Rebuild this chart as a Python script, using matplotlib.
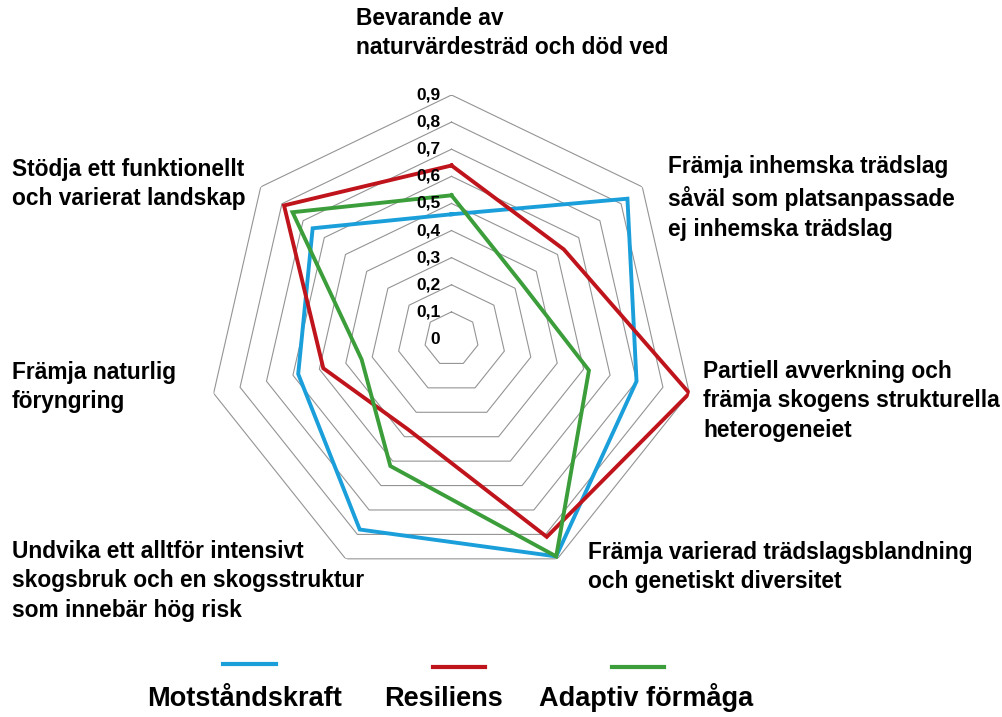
import numpy as np
import matplotlib.pyplot as plt
from matplotlib.lines import Line2D

plt.rcParams['font.family'] = ['Liberation Sans', 'DejaVu Sans']

# axlar medurs från toppen
categories = [
    "Bevarande av\nnaturvärdesträd och död ved",
    "Främja inhemska trädslag\nsåväl som platsanpassade\nej inhemska trädslag",
    "Partiell avverkning och\nfrämja skogens strukturella\nheterogeneiet",
    "Främja varierad trädslagsblandning\noch genetiskt diversitet",
    "Undvika ett alltför intensivt\nskogsbruk och en skogsstruktur\nsom innebär hög risk",
    "Främja naturlig\nföryngring",
    "Stödja ett funktionellt\noch varierat landskap",
]
motstandskraft = [0.46, 0.83, 0.70, 0.89, 0.78, 0.58, 0.655]
resiliens = [0.64, 0.53, 0.90, 0.81, 0.37, 0.485, 0.79]
adaptiv = [0.53, 0.33, 0.52, 0.89, 0.52, 0.34, 0.75]
series_names = ["Motståndskraft", "Resiliens", "Adaptiv förmåga"]
ticks = [0, 0.1, 0.2, 0.3, 0.4, 0.5, 0.6, 0.7, 0.8, 0.9]
tick_labels = ["0", "0,1", "0,2", "0,3", "0,4", "0,5", "0,6", "0,7", "0,8", "0,9"]

colors = ["#1a9fdb", "#c0141c", "#3b9e3a"]

W, H = 1003, 717
fig = plt.figure(figsize=(W / 100, H / 100), dpi=100)

# polär axel, centrum ca (451.5, 339) px, 0,9 -> 244 px
cx, cy, R = 451.5, 339, 244
ax = fig.add_axes([(cx - R) / W, (H - cy - R) / H, 2 * R / W, 2 * R / H], projection='polar')
ax.set_theta_zero_location('N')
ax.set_theta_direction(-1)
ax.set_ylim(0, 0.9)
ax.set_xticks([])
ax.set_yticks([])
ax.grid(False)
ax.spines['polar'].set_visible(False)
ax.patch.set_visible(False)

n = len(categories)
theta = np.linspace(0, 2 * np.pi, n, endpoint=False)
theta_c = np.append(theta, theta[0])

# heptagon-rutnät
for r in ticks[1:]:
    ax.plot(theta_c, [r] * (n + 1), color='#949494', lw=0.8, zorder=1)

for vals, c in zip([motstandskraft, resiliens, adaptiv], colors):
    ax.plot(theta_c, vals + vals[:1], color=c, lw=2.8, zorder=3, solid_joinstyle='miter')

for r, lab in zip(ticks, tick_labels):
    ax.annotate(lab, xy=(0, r), xytext=(-8, 0), textcoords='offset points',
                ha='right', va='center', fontsize=12.5, fontweight='bold', zorder=4)

# kategorietiketter (vänsterkant x, mitten y i px)
label_pos = [(356, 33), (668, 198), (703, 401), (588, 567), (12, 581), (12, 387), (12, 184)]
for lab, (x, y) in zip(categories, label_pos):
    fig.text(x / W, 1 - y / H, lab, ha='left', va='center', fontsize=16.4,
             fontweight='bold', linespacing=1.38)

# förklaring: linje ovanför text
leg_lines = [(223, 276, 664), (433, 485, 667), (612, 664, 667)]
leg_text = [147, 384, 539]
for (x0, x1, ly), tx, name, c in zip(leg_lines, leg_text, series_names, colors):
    fig.add_artist(Line2D([x0 / W, x1 / W], [1 - ly / H] * 2, color=c, lw=3))
    fig.text(tx / W, 1 - 706 / H, name, ha='left', va='baseline', fontsize=19.5, fontweight='bold')

fig.savefig('out.png', dpi=100)
